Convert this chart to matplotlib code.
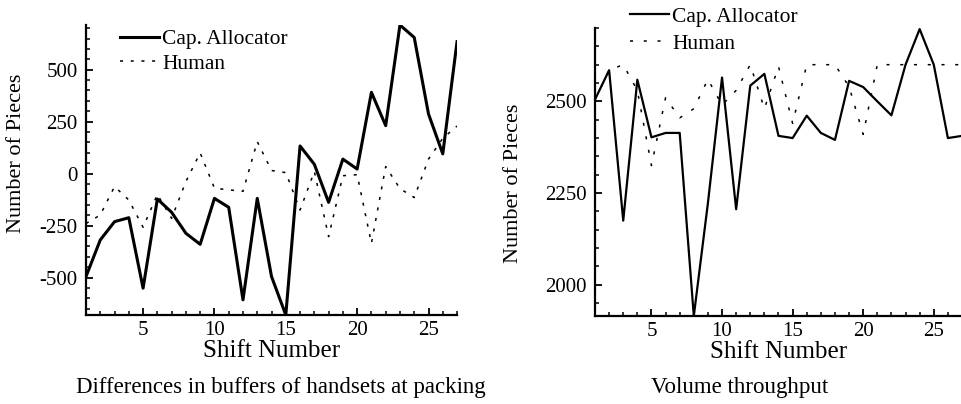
import numpy as np
import matplotlib
matplotlib.use('Agg')
import matplotlib.pyplot as plt
from matplotlib.ticker import MultipleLocator

plt.rcParams['font.family'] = ['Liberation Serif', 'DejaVu Serif']
plt.rcParams['axes.unicode_minus'] = False

# Numero de turnos (Shift Number)
turnos = np.arange(1, 28)

# Diferencas nos buffers de aparelhos na embalagem
buffer_cap = [-495, -319, -231, -212, -551, -122, -186, -287, -340, -119,
              -162, -607, -119, -495, -680, 133, 45, -138, 70, 22,
              391, 231, 715, 655, 287, 95, 635]
buffer_humano = [-240, -199, -62, -127, -258, -100, -215, -38, 100, -70,
                 -78, -85, 154, 15, 5, -175, 10, -303, -10, -5,
                 -335, 34, -72, -115, 70, 170, 229]

# Volume produzido (Volume throughput)
volume_cap = [2505, 2585, 2175, 2559, 2402, 2414, 2414, 1915, 2223, 2565,
              2206, 2543, 2575, 2406, 2400, 2461, 2414, 2395, 2556, 2539,
              2500, 2462, 2600, 2697, 2600, 2400, 2406]
volume_humano = [2505, 2585, 2600, 2530, 2325, 2510, 2455, 2480, 2560, 2490,
                 2530, 2600, 2480, 2595, 2440, 2600, 2600, 2600, 2540, 2410,
                 2600, 2600, 2600, 2600, 2600, 2600, 2600]

fig = plt.figure(figsize=(9.62, 4.04), dpi=100)
ax1 = fig.add_axes([0.0894, 0.2203, 0.3857, 0.7178])
ax2 = fig.add_axes([0.6185, 0.2178, 0.3815, 0.7129])


def configura_eixo(ax, ymaior):
    ax.spines['top'].set_visible(False)
    ax.spines['right'].set_visible(False)
    ax.spines['left'].set_linewidth(1.6)
    ax.spines['bottom'].set_linewidth(1.6)
    ax.xaxis.set_major_locator(MultipleLocator(5))
    ax.xaxis.set_minor_locator(MultipleLocator(1))
    ax.yaxis.set_major_locator(MultipleLocator(ymaior))
    ax.yaxis.set_minor_locator(MultipleLocator(50))
    ax.tick_params(which='major', direction='in', length=5, width=1.3,
                   labelsize=15, pad=6)
    ax.tick_params(axis='x', which='major', pad=4)
    ax.tick_params(which='minor', direction='in', length=3, width=1.1)
    ax.set_xlim(1, 27)
    ax.set_xlabel('Shift Number', fontsize=18, labelpad=0)
    ax.set_ylabel('Number of Pieces', fontsize=16)


# Grafico da esquerda: buffers
ax1.plot(turnos, buffer_cap, color='black', lw=2.2, label='Cap. Allocator')
ax1.plot(turnos, buffer_humano, color='black', lw=1.1, linestyle=(0, (2, 5)), label='Human')
configura_eixo(ax1, 250)
ax1.set_ylim(min(buffer_cap), max(buffer_cap))
ax1.yaxis.set_label_coords(-0.162, 0.559)
ax1.legend(loc='upper left', bbox_to_anchor=(0.1247, 0.928), bbox_transform=fig.transFigure,
           frameon=False, fontsize=15.5, handlelength=1.8, handletextpad=0.15,
           borderpad=0, borderaxespad=0, labelspacing=0.22)

# Grafico da direita: volume
ax2.plot(turnos, volume_cap, color='black', lw=1.6, label='Cap. Allocator')
ax2.plot(turnos, volume_humano, color='black', lw=1.1, linestyle=(0, (2, 7)), label='Human')
configura_eixo(ax2, 250)
ax2.set_ylim(min(volume_cap), 2700)
ax2.yaxis.set_label_coords(-0.196, 0.462)
ax2.legend(loc='upper left', bbox_to_anchor=(0.655, 0.983), bbox_transform=fig.transFigure,
           frameon=False, fontsize=15.5, handlelength=1.8, handletextpad=0.15,
           borderpad=0, borderaxespad=0, labelspacing=0.32)

# Legendas inferiores
fig.text(281 / 962, 1 - 388 / 404, 'Differences in buffers of handsets at packing',
         ha='center', va='center', fontsize=16.5)
fig.text(740 / 962, 1 - 388 / 404, 'Volume throughput', ha='center', va='center', fontsize=16.5)

fig.savefig('out.png', dpi=100)
